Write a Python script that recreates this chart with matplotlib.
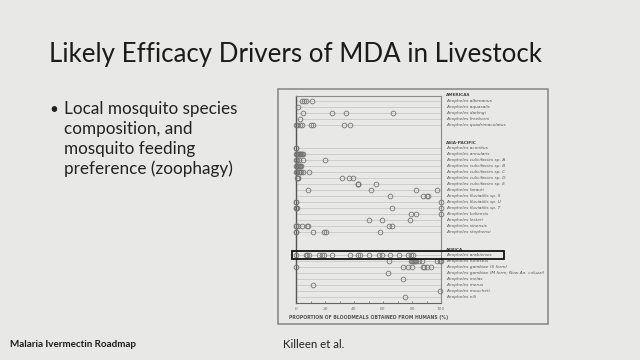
import numpy as np
import matplotlib.pyplot as plt
from matplotlib.patches import Rectangle

# Killeen et al. - proportion of bloodmeals from humans, per species
americas_species = ["albimanus", "aquasalis", "darlingi", "freeborni", "quadrimaculatus"]
americas_values = [
    [4, 5.5, 7, 11],
    [1.5],
    [5, 25, 34.5, 67],
    [2.8],
    [0, 0.5, 2.5, 4, 10.5, 11.5, 33, 37],
]

asia_species = ["aconitus", "annularis", "culicifacies sp. A", "culicifacies sp. B",
                "culicifacies sp. C", "culicifacies sp. D", "culicifacies sp. E",
                "farauti", "fluviatilis sp. S", "fluviatilis sp. U", "fluviatilis sp. T",
                "koliensis", "lesteri", "sinensis", "stephensi"]
asia_values = [
    [0, 0.3],
    [0, 0.5, 1, 1.5, 2, 2.5, 3, 3.5, 4, 4.5],
    [0, 0.5, 2.3, 4.8, 20.3],
    [0, 0.5, 1, 1.5, 2, 2.5, 3, 3.5],
    [0, 0.5, 1, 2, 3, 3.5, 4.5, 9],
    [1, 1.2, 1.4, 32, 36.5, 39.5],
    [42.5, 42.7, 43, 55.5],
    [8.5, 52, 83, 97],
    [65, 87.5, 90, 91],
    [0, 0.2, 100],
    [0, 0.2, 0.4, 66.5, 100],
    [79, 83, 100],
    [50, 59.5, 78.5],
    [0, 0.3, 1.5, 4, 7.8, 8, 64, 66.5],
    [0, 0.2, 11.5, 19, 21, 58],
]

africa_species = ["arabiensis", "funestus", "gambiae (S form)",
                  "gambiae (M form; Now An. coluzzi)", "melas", "merus", "moucheti", "nili"]
africa_values = [
    [0, 7, 7.5, 9, 16, 18, 19.5, 25, 37, 42.5, 44, 50, 57, 59, 64.5, 71, 77.5, 79.5, 80.5],
    [64, 79, 80, 81, 81.5, 82, 83, 85, 87, 97, 99, 100],
    [0, 74, 77, 80, 87.5, 88.5, 90.5, 93],
    [63.3],
    [73.8],
    [12],
    [99],
    [75],
]

regions = ["AMERICAS", "ASIA-PACIFIC", "AFRICA"]
region_start = [0, 8, 26]   # slot of the region heading
groups = [(americas_species, americas_values),
          (asia_species, asia_values),
          (africa_species, africa_values)]

bg = "#e8e8e6"
W, H = 640, 360
fig = plt.figure(figsize=(6.4, 3.6), dpi=100, facecolor=bg)

def fx(px):
    return px / W

def fy(py):
    return 1 - py / H

# slide text
fig.text(fx(49), fy(62), "Likely Efficacy Drivers of MDA in Livestock", family="Lato",
         fontsize=18.6, color="#1b1b1b", va="baseline", ha="left")
fig.text(fx(49), fy(114), "\u2022", family="Lato", fontsize=11, color="#222222", va="baseline")
bullet = ["Local mosquito species", "composition, and", "mosquito feeding",
          "preference (zoophagy)"]
for i, line in enumerate(bullet):
    fig.text(fx(64), fy(114 + 20 * i), line, family="Lato", fontsize=12.3,
             color="#222222", va="baseline")
fig.text(fx(10), fy(347), "Malaria Ivermectin Roadmap", family="Lato", fontsize=7.1,
         weight="bold", color="#1b1b1b", va="baseline")
fig.text(fx(283), fy(348), "Killeen et al.", family="Lato", fontsize=8.2,
         color="#222222", va="baseline")

# frame of the pasted figure
fig.patches.append(Rectangle((fx(278), fy(324)), fx(547.5) - fx(278), fy(88.5) - fy(324),
                             transform=fig.transFigure, facecolor="none",
                             edgecolor="#8c8c8c", lw=1.2))

ax = fig.add_axes([fx(296), fy(303), fx(441) - fx(296), fy(95.7) - fy(303)])
ax.set_facecolor(bg)
ax.set_xlim(0, 100)
ax.set_ylim(35.0, 0.12)

lab_x = 103.4
for name, start, (species, values) in zip(regions, region_start, groups):
    ax.text(lab_x, start, name, fontsize=3.1, weight="bold", color="#444444",
            va="center", ha="left", clip_on=False)
    for k, (sp, vals) in enumerate(zip(species, values)):
        y = start + 1 + k
        ax.axhline(y, color="#c8c8c8", lw=0.6, zorder=1)
        ax.plot(vals, [y] * len(vals), "o", ms=3.4, mfc="none", mec="#747474",
                mew=0.6, clip_on=False, zorder=3)
        ax.text(lab_x, y, "Anopheles " + sp, fontsize=3.1, style="italic",
                color="#555555", va="center", ha="left", clip_on=False)

# highlight An. arabiensis
ax.add_patch(Rectangle((-2.8, 26.33), 146.2, 1.34, facecolor="none", edgecolor="#111111",
                       lw=1.3, clip_on=False, zorder=4))

for s in ["top", "right"]:
    ax.spines[s].set_color("#8a8a8a")
    ax.spines[s].set_linewidth(0.8)
ax.spines["left"].set_color("#555555")
ax.spines["left"].set_linewidth(1.0)
ax.spines["bottom"].set_color("#666666")
ax.spines["bottom"].set_linewidth(0.8)

ax.set_yticks([])
ax.set_xticks(np.arange(0, 101, 20))
ax.set_xticks(np.arange(10, 100, 20), minor=True)
ax.tick_params(axis="x", which="both", direction="in", length=1.5, width=0.6,
               color="#777777", labelsize=3.2, labelcolor="#777777", pad=3)
ax.set_xlabel("PROPORTION OF BLOODMEALS OBTAINED FROM HUMANS (%)", fontsize=3.3,
              weight="bold", color="#555555", labelpad=2.5)

fig.savefig("out.png", dpi=100, facecolor=bg)
